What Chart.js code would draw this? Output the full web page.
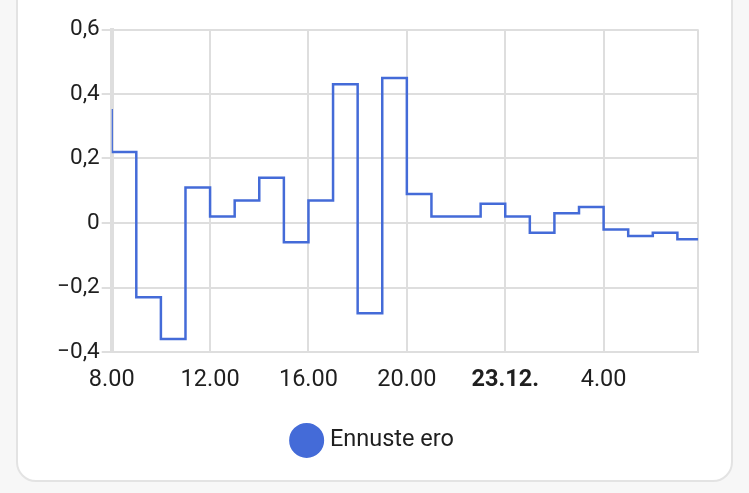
<!DOCTYPE html>
<html>
<head>
<meta charset="utf-8">
<script src="https://cdn.jsdelivr.net/npm/chart.js@4.4.1/dist/chart.umd.min.js"></script>
<style>
  html, body { margin: 0; padding: 0; width: 749px; height: 493px; overflow: hidden; background: #f7f7f7; }
  .card { position: absolute; left: 16px; top: -40px; width: 713px; height: 518px; background: #fff; border: 2px solid #e3e3e3; border-radius: 20px; }
  #chart { position: absolute; left: 17px; top: 0; }
</style>
</head>
<body>
<div class="card"></div>
<canvas id="chart" width="715" height="482"></canvas>
<script>
// hours since midnight of 22.12. (24 = 23.12. 0.00); each value holds until the next hour
const hours = [7, 8, 9, 10, 11, 12, 13, 14, 15, 16, 17, 18, 19, 20, 21, 22, 23, 24, 25, 26, 27, 28, 29, 30, 31];
const values = [0.35, 0.22, -0.23, -0.36, 0.11, 0.02, 0.07, 0.14, -0.06, 0.07, 0.43, -0.28, 0.45,
                0.09, 0.02, 0.02, 0.06, 0.02, -0.03, 0.03, 0.05, -0.02, -0.04, -0.03, -0.05];
const startHour = 8;
const endHour = 31.85;

const xTickHours = [8, 12, 16, 20, 24, 28];
const xTickLabels = ['8.00', '12.00', '16.00', '20.00', '23.12.', '4.00'];
const yTickLabels = ['\u22120,4', '\u22120,2', '0', '0,2', '0,4', '0,6'];

const seriesLabel = 'Ennuste ero';
const lineColor = '#446bd8';
const gridColor = '#dedede';
const textColor = '#1f1f1f';

// last value runs on to the end of the range
const points = hours.map((h, i) => ({ x: h, y: values[i] }));
points.push({ x: endHour, y: values[values.length - 1] });

Chart.defaults.font.family = 'Roboto';

new Chart(document.getElementById('chart').getContext('2d'), {
    type: 'line',
    data: {
        datasets: [{
            label: seriesLabel,
            data: points,
            stepped: 'before',
            borderColor: lineColor,
            backgroundColor: lineColor,
            borderWidth: 2.5,
            pointRadius: 0,
            pointStyle: 'circle',
            fill: false
        }]
    },
    options: {
        responsive: false,
        animation: false,
        layout: { padding: { top: 29.5, left: 33.7, right: 33.7, bottom: 19.8 } },
        plugins: {
            tooltip: { enabled: false },
            legend: {
                position: 'bottom',
                labels: {
                    usePointStyle: true,
                    boxWidth: 23,
                    boxHeight: 23,
                    padding: 10,
                    color: textColor,
                    font: { size: 23.5 }
                }
            }
        },
        scales: {
            x: {
                type: 'linear',
                min: startHour,
                max: endHour,
                afterBuildTicks: (scale) => {
                    scale.ticks = xTickHours.map(v => ({ value: v })).concat([{ value: endHour }]);
                },
                afterFit: (scale) => { scale.height = 66.7; },
                ticks: {
                    autoSkip: false,
                    maxRotation: 0,
                    padding: 14,
                    color: textColor,
                    font: (ctx) => ({ size: 23.5, weight: ctx.index === 4 ? 'bold' : 'normal' }),
                    callback: (v, i) => xTickLabels[i] || ''
                },
                grid: { color: gridColor, lineWidth: 2, drawTicks: false },
                border: { color: gridColor, width: 2 }
            },
            y: {
                min: -0.4,
                max: 0.6,
                afterBuildTicks: (scale) => {
                    scale.ticks = yTickLabels.map((t, i) => ({ value: -0.4 + i * 0.2 }));
                },
                afterFit: (scale) => { scale.width = 61; },
                ticks: {
                    padding: 2,
                    color: textColor,
                    font: { size: 22.5 },
                    callback: (v, i) => yTickLabels[i]
                },
                grid: { color: gridColor, lineWidth: 2, tickLength: 10 },
                border: { color: gridColor, width: 4 }
            }
        }
    }
});
</script>
</body>
</html>
